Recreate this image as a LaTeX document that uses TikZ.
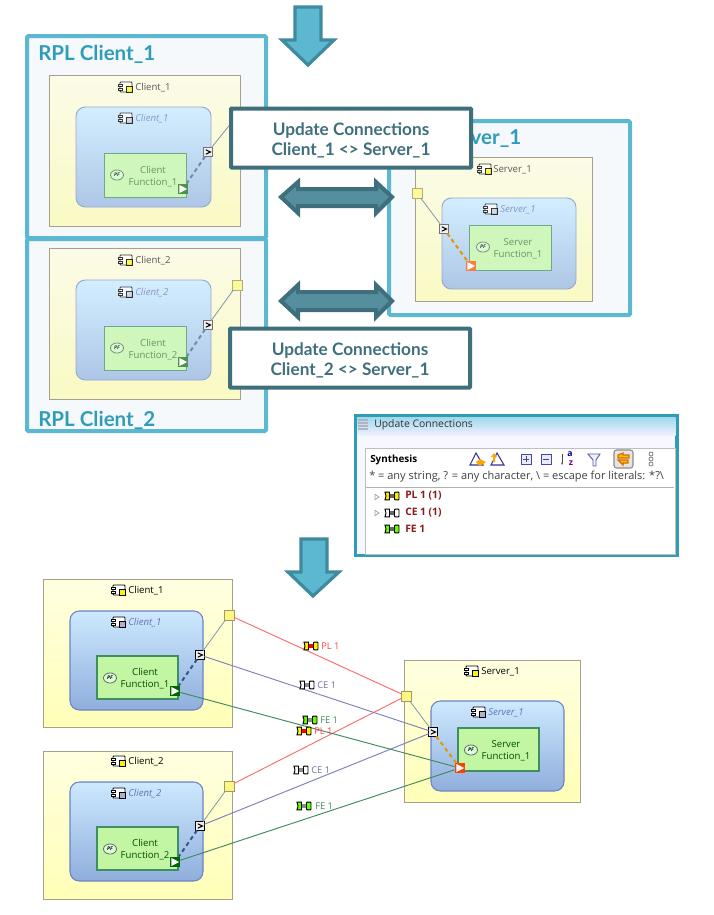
\documentclass[tikz,border=0pt]{standalone}
\usepackage{fontspec}
\setmainfont{Open Sans}
\newfontfamily\headfont{Lato}
\usetikzlibrary{shadows,shapes.geometric,arrows.meta}
\definecolor{panelline}{HTML}{5BB8D0}
\definecolor{panelfill}{HTML}{F6F9FB}
\definecolor{headblue}{HTML}{2F9DB8}
\definecolor{callline}{HTML}{3F6F7D}
\definecolor{dblfill}{HTML}{558E9C}
\definecolor{downfill}{HTML}{5BB8D0}
\definecolor{downline}{HTML}{3F8A9C}
\definecolor{winline}{HTML}{2F9DB5}
\definecolor{redline}{HTML}{FF6A6A}
\definecolor{cepurple}{HTML}{7D7FBE}
\definecolor{fegreen}{HTML}{3E8A5C}
\definecolor{darkred}{HTML}{8B1A1A}
\definecolor{bluUtop}{HTML}{D3EEFF}
\definecolor{bluUbot}{HTML}{AEC6E6}
\definecolor{bluLtop}{HTML}{CDE9FF}
\definecolor{bluLbot}{HTML}{8FAEDC}
\definecolor{bluUedge}{HTML}{98A8D4}
\definecolor{bluLedge}{HTML}{6F83C4}
\definecolor{grnUfill}{HTML}{CFF7BC}
\definecolor{grnLfill}{HTML}{C3F6A2}
\definecolor{grnUedge}{HTML}{6FA88A}
\definecolor{grnLedge}{HTML}{3F8F62}
\definecolor{dashUcol}{HTML}{6F8CA8}
\definecolor{dashLcol}{HTML}{33558A}
\definecolor{linkcol}{HTML}{7D98A8}
\definecolor{innerU}{HTML}{8C96CC}
\definecolor{innerL}{HTML}{6670B8}
\definecolor{boxedge}{HTML}{A89F8C}
\tikzset{
  x=0.75pt,y=-0.75pt,
  rb/.style={inner sep=0pt,outer sep=0pt,rectangle},
  panel/.style={rb,draw=panelline,line width=3pt,fill=panelfill,rounded corners=1pt},
  callout/.style={rb,draw=callline,line width=3pt,fill=white,rounded corners=0.5pt,align=center,text=callline,
     font=\headfont\bfseries\fontsize{12.9}{15}\selectfont},
  yelU/.style={rb,draw=boxedge,line width=.6pt,top color=yellow!8!white!97!gray,bottom color=yellow!22!white!96!gray},
  bluU/.style={rb,draw=bluUedge,line width=.7pt,rounded corners=7pt,top color=bluUtop,bottom color=bluUbot},
  grnU/.style={rb,draw=grnUedge,line width=.7pt,fill=grnUfill},
  yelL/.style={rb,draw=boxedge,line width=.7pt,top color=yellow!12!white,bottom color=yellow!28!white,drop shadow={shadow xshift=1pt,shadow yshift=-1pt,opacity=.2}},
  bluL/.style={rb,draw=bluLedge,line width=.8pt,rounded corners=7pt,top color=bluLtop,bottom color=bluLbot},
  grnL/.style={rb,draw=grnLedge,line width=.8pt,fill=grnLfill},
  ypU/.style={rb,draw=gray!70!yellow,line width=.6pt,fill=yellow!40!white,minimum size=7.5pt},
  ypL/.style={rb,draw=gray!60!yellow!80!black,line width=.7pt,fill=yellow!50!white,minimum size=7.5pt},
  gtU/.style={rb,draw=black!55,line width=.6pt,fill=black!6,minimum size=6.5pt},
  gtL/.style={rb,draw=black,line width=.7pt,fill=black!6,minimum size=6.5pt},
  triGU/.style={rb,fill=green!40!black!70!white,minimum size=8pt},
  triGL/.style={rb,fill=green!40!black,minimum size=8pt},
  triRU/.style={rb,fill=orange!60!red!75!white,minimum size=8pt},
  triRL/.style={rb,fill=orange!50!red,minimum size=8pt},
  txtTitle/.style={inner sep=0pt,yshift=-.6pt,font=\fontsize{7.2}{8}\selectfont},
  txtInner/.style={inner sep=0pt,yshift=-.6pt,font=\itshape\fontsize{7.2}{8}\selectfont},
  txtFun/.style={inner sep=0pt,yshift=-.6pt,align=center,font=\fontsize{7.2}{9}\selectfont},
  heading/.style={inner sep=0pt,anchor=west,text=headblue,font=\headfont\bfseries\fontsize{15.4}{18}\selectfont},
  pflab/.style={ellipse,draw=black!60,line width=.6pt,inner sep=0pt,minimum width=9.8pt,minimum height=7.6pt,fill=white!85!green,font=\itshape\bfseries\fontsize{3.8}{4}\selectfont},
  solidlink/.style={line width=.6pt,draw=linkcol},
  dashU/.style={line width=1.5pt,dash pattern=on 3pt off 2.5pt,draw=dashUcol},
  dashL/.style={line width=1.5pt,dash pattern=on 3pt off 2.5pt,draw=dashLcol},
  dashO/.style={line width=1.5pt,dash pattern=on 3pt off 2.5pt,draw=orange!70!yellow!90!black},
  pllink/.style={line width=.7pt,draw=redline},
  celink/.style={line width=.7pt,draw=cepurple},
  felink/.style={line width=.7pt,draw=fegreen},
  conlab/.style={inner sep=0pt,anchor=west,yshift=-.4pt,font=\fontsize{7}{8}\selectfont},
  wintxt/.style={inner sep=0pt,anchor=west,font=\fontsize{7.8}{9}\selectfont},
  rowtxt/.style={inner sep=0pt,anchor=west,text=darkred,font=\bfseries\fontsize{7.7}{9}\selectfont},
}
% box by its corners
\newcommand{\rbox}[6]{\node[#1,minimum width={(#5-#3)*0.75pt},minimum height={(#6-#4)*0.75pt}] (#2) at ({(#3+#5)/2},{(#4+#6)/2}) {};}
% component icon: x y fill opacity
\newcommand{\compicon}[4]{\begin{scope}[shift={(#1,#2)},opacity=#4]
  \draw[line width=.6pt,fill=white,rounded corners=.6pt] (-5,-5) rectangle (7,5);
  \draw[line width=.6pt,fill=white] (-7,-3) rectangle (-3,-1);
  \draw[line width=.6pt,fill=white] (-7,1) rectangle (-3,3);
  \draw[line width=.5pt,fill=#3] (1,-.5) rectangle (7,5);
\end{scope}}
% connection icon: x y end fill bar fill
\newcommand{\conicon}[4]{\begin{scope}[shift={(#1,#2)}]
  \fill[#4] (-3,-1.8) rectangle (3,1.8);
  \draw[line width=.7pt,fill=#3] (-7,-3.8) -- (-2.5,-3.8) -- (-2.5,3.8) -- (-7,3.8) -- (-6,0) -- cycle;
  \draw[line width=.7pt,fill=#3,rounded corners=.5pt] (2.5,-3.8) rectangle (7,3.8);
\end{scope}}
\newcommand{\gtmark}[1]{\draw[line width=.8pt,line join=miter] ([shift={(-2.2,-2.2)}]#1.center) -- ([shift={(2.4,0)}]#1.center) -- ([shift={(-2.2,2.2)}]#1.center);}
\newcommand{\trimark}[1]{\fill[white] ([shift={(-3.6,-4)}]#1.center) -- ([shift={(4.2,0)}]#1.center) -- ([shift={(-3.6,4)}]#1.center) -- cycle;}
\newcommand{\triang}[2]{\fill[gray!80] (#1-2.5,#2-3.5) -- (#1+2.5,#2) -- (#1-2.5,#2+3.5) -- cycle; \fill[white] (#1-1.6,#2-2) -- (#1+1,#2) -- (#1-1.6,#2+2) -- cycle;}
\begin{document}
\begin{tikzpicture}
\useasboundingbox (0,0) rectangle (714,915);
\fill[white] (0,0) rectangle (714,915);

% ---- upper arrows
\path[draw=downline,fill=downfill,line width=2.4pt,line join=miter]
  (295,7) -- (321,7) -- (321,40) -- (334,40) -- (308,65) -- (282,40) -- (295,40) -- cycle;

% ---- panels
\rbox{panel}{pc1}{27}{36}{266}{238}
\rbox{panel}{pc2}{27}{239}{266}{431}
\rbox{panel}{ps1}{389}{121}{630}{315}
\node[heading] (hc1) at (38,54) {RPL Client\_1};
\node[heading] (hc2) at (38,420.5) {RPL Client\_2};
\node[heading] (hs1) at (399,138) {RPL Server\_1};

% ---- upper Client_1
\rbox{yelU}{ua1y}{49}{75}{240}{226}
\rbox{bluU}{ua1b}{76}{107}{211}{207}
\rbox{grnU}{ua1g}{104}{153}{186}{197}
\compicon{125}{87}{yellow!85!white}{.8}
\node[txtTitle,text=black!65,anchor=west] (ua1t) at (135,87) {Client\_1};
\compicon{125}{118}{blue!15!gray!35}{.75}
\node[txtInner,text=innerU,anchor=west] (ua1i) at (135,118) {Client\_1};
\node[pflab,opacity=.75] (ua1p) at (117,175) {PF};
\node[txtFun,text=green!30!black!60] (ua1f) at (153,176) {Client\\Function\_1};
\coordinate (ua1hid) at (240,112);
\node[gtU] (ua1c) at (208,152) {};
\node[triGU] (ua1e) at (183,189) {};
\draw[solidlink] (ua1c) -- (ua1hid);
\draw[dashU] (ua1c) -- (ua1e);
\gtmark{ua1c}\trimark{ua1e}

% ---- upper Client_2
\rbox{yelU}{ua2y}{49}{248}{240}{399}
\rbox{bluU}{ua2b}{76}{280}{211}{380}
\rbox{grnU}{ua2g}{104}{326}{186}{370}
\compicon{125}{260}{yellow!85!white}{.8}
\node[txtTitle,text=black!65,anchor=west] (ua2t) at (135,260) {Client\_2};
\compicon{125}{292}{blue!15!gray!35}{.75}
\node[txtInner,text=innerU,anchor=west] (ua2i) at (135,292) {Client\_2};
\node[pflab,opacity=.75] (ua2p) at (117,348) {PF};
\node[txtFun,text=green!30!black!60] (ua2f) at (153,349) {Client\\Function\_2};
\node[ypU] (ua2a) at (237,285) {};
\node[gtU] (ua2c) at (208,325) {};
\node[triGU] (ua2e) at (183,362) {};
\draw[solidlink] (ua2c) -- (ua2a);
\draw[dashU] (ua2c) -- (ua2e);
\gtmark{ua2c}\trimark{ua2e}

% ---- upper Server_1
\rbox{yelU}{us1y}{415}{157}{592}{301}
\rbox{bluU}{us1b}{442}{198}{576}{289}
\rbox{grnU}{us1g}{469}{225}{551}{270}
\compicon{484}{169}{yellow!85!white}{.8}
\node[txtTitle,text=black!65,anchor=west] (us1t) at (493,169) {Server\_1};
\compicon{490}{209}{blue!15!gray!35}{.75}
\node[txtInner,text=innerU,anchor=west] (us1i) at (500,209) {Server\_1};
\node[pflab,opacity=.75] (us1p) at (483,247) {PF};
\node[txtFun,text=green!30!black!60] (us1f) at (518,248) {Server\\Function\_1};
\node[ypU] (us1a) at (417,193) {};
\node[gtU] (us1c) at (444,229) {};
\node[triRU] (us1e) at (471,266) {};
\draw[solidlink] (us1c) -- (us1a);
\draw[dashO] (us1c) -- (us1e);
\gtmark{us1c}\trimark{us1e}

% ---- callouts
\node[callout,minimum width={240*0.75pt},minimum height={59*0.75pt}] (call1) at (351,138) {\rule{0pt}{12.5pt}Update Connections\\Client\_1 <> Server\_1};
\node[callout,minimum width={240*0.75pt},minimum height={59*0.75pt}] (call2) at (350,358) {\rule{0pt}{12.5pt}Update Connections\\Client\_2 <> Server\_1};

% ---- double arrows
\path[draw=callline,fill=dblfill,line width=3pt,line join=miter]
  (281,197) -- (298,182) -- (298,189) -- (376,189) -- (376,182) -- (392,197) -- (376,213) -- (376,206) -- (298,206) -- (298,213) -- cycle;
\path[draw=callline,fill=dblfill,line width=3pt,line join=miter]
  (281,301) -- (298,285) -- (298,292) -- (376,292) -- (376,285) -- (392,301) -- (376,317) -- (376,310) -- (298,310) -- (298,317) -- cycle;

% ---- window
\rbox{rb,fill=white!97!blue,draw=winline,line width=2.4pt}{win}{355.5}{416}{677}{555.5}
\shade[top color=blue!25!cyan!35!white!85!gray,bottom color=blue!6!white] (357,417.5) rectangle (675.5,435);
\foreach \yy in {420,423,426,429}{\draw[blue!10!gray!55,line width=1.2pt] (358,\yy) -- (368,\yy);}
\node[wintxt,text=black!80] (wtitle) at (374,425) {Update Connections};
\rbox{rb,fill=white,draw=black!25,line width=.5pt}{wpanel}{365}{448}{675.5}{554}
\coordinate (wfl) at (366,487);
\coordinate (wfr) at (674,487);
\draw[black!30,line width=.6pt] (wfl) -- (wfr);
\node[wintxt,text=black,font=\bfseries\fontsize{7.4}{9}\selectfont] (wsyn) at (370,460) {Synthesis};
\node[wintxt,text=black!75,font=\fontsize{8.25}{9}\selectfont] (wfilter) at (369,477) {* = any string, ? = any character, \textbackslash\ = escape for literals: *?\textbackslash};
% toolbar icons
\draw[blue!50!black!80,line width=.8pt,fill=white] (476,453) -- (483,465) -- (470,465) -- cycle;
\fill[orange!70!yellow] (480,459) -- (486,462) -- (480,466) -- (476,462) -- cycle;
\draw[blue!50!black!80,line width=.8pt,fill=white] (497,453) -- (504,465) -- (491,465) -- cycle;
\fill[orange!70!yellow] (491,457) -- (494,453) -- (497,457) -- (495,457) -- (495,462) -- (493,462) -- (493,457) -- cycle;
\draw[blue!45!gray,line width=.7pt,fill=blue!8!white] (521,454) rectangle (531,464);
\draw[black!70,line width=.7pt] (523,459) -- (529,459) (526,456) -- (526,462);
\draw[blue!45!gray,line width=.7pt,fill=blue!8!white] (541,454) rectangle (551,464);
\draw[black!70,line width=.7pt] (543,459) -- (549,459);
\draw[black!70,line width=.7pt,-{Stealth[length=2pt]}] (562,454) -- (562,465);
\node[inner sep=0pt,text=blue!60!black,font=\bfseries\fontsize{6.5}{6}\selectfont] (wsa) at (570,454) {a};
\node[inner sep=0pt,text=violet,font=\bfseries\fontsize{6.5}{6}\selectfont] (wsz) at (571,463) {z};
\draw[gray!70!blue,line width=.7pt,fill=blue!6!white] (588,454) -- (600,454) -- (596,460) -- (596,466) -- (593,466) -- (593,460) -- cycle;
\rbox{rb,draw=black!45,line width=.8pt,fill=black!10,rounded corners=2pt}{wsel}{614}{450}{633}{468}
\draw[orange!85!black,line width=.9pt,fill=yellow!50!orange] (618,455) -- (623,453) -- (623,455) -- (629,455) -- (629,458) -- (618,458) -- cycle (618,460) -- (628,460) -- (628,463) -- (623,463) -- (623,465) -- cycle;
\foreach \yy in {454,459,464}{\draw[black!50,line width=.6pt,fill=white] (651,\yy) circle (2);}
% tree rows
\triang{377}{497}\triang{377}{513}
\conicon{392}{496}{yellow!90!orange}{black!60}
\conicon{392}{513}{white}{black!60}
\conicon{392}{529}{green!60!yellow}{black!60}
\node[rowtxt] (wr1) at (405,496) {PL 1 (1)};
\node[rowtxt] (wr2) at (405,513) {CE 1 (1)};
\node[rowtxt] (wr3) at (405,529) {FE 1};

% ---- lower arrow
\path[draw=downline,fill=downfill,line width=2.4pt,line join=miter]
  (301,539) -- (327,539) -- (327,572) -- (339,572) -- (313,596) -- (288,572) -- (301,572) -- cycle;

% ---- lower Client_1
\rbox{yelL}{la1y}{43}{579}{232}{727}
\rbox{bluL}{la1b}{70}{611}{203}{710}
\rbox{grnL}{la1g}{97}{656}{178}{699}
\compicon{118}{590}{yellow}{1}
\node[txtTitle,anchor=west] (la1t) at (128,590) {Client\_1};
\compicon{118}{622}{blue!25!gray!50}{1}
\node[txtInner,text=innerL,anchor=west] (la1i) at (128,622) {Client\_1};
\node[pflab] (la1p) at (110,678) {PF};
\node[txtFun,text=green!30!black] (la1f) at (145,678) {Client\\Function\_1};

% ---- lower Client_2
\rbox{yelL}{la2y}{43}{751}{232}{899}
\rbox{bluL}{la2b}{70}{782}{203}{881}
\rbox{grnL}{la2g}{97}{827}{178}{870}
\compicon{118}{761}{yellow}{1}
\node[txtTitle,anchor=west] (la2t) at (128,761) {Client\_2};
\compicon{118}{793}{blue!25!gray!50}{1}
\node[txtInner,text=innerL,anchor=west] (la2i) at (128,793) {Client\_2};
\node[pflab] (la2p) at (110,849) {PF};
\node[txtFun,text=green!30!black] (la2f) at (145,849) {Client\\Function\_2};

% ---- lower Server_1
\rbox{yelL}{ls1y}{404}{660}{580}{802}
\rbox{bluL}{ls1b}{431}{701}{564}{791}
\rbox{grnL}{ls1g}{458}{728}{539}{771}
\compicon{471}{671}{yellow}{1}
\node[txtTitle,anchor=west] (ls1t) at (481,671) {Server\_1};
\compicon{478}{712}{blue!25!gray!50}{1}
\node[txtInner,text=innerL,anchor=west] (ls1i) at (488,712) {Server\_1};
\node[pflab] (ls1p) at (471,750) {PF};
\node[txtFun,text=green!30!black] (ls1f) at (506,750) {Server\\Function\_1};

% ---- lower ports
\node[ypL] (la1a) at (229,615) {};
\node[gtL] (la1c) at (200,655) {};
\node[triGL] (la1e) at (175,691) {};
\node[ypL] (la2a) at (229,786) {};
\node[gtL] (la2c) at (200,826) {};
\node[triGL] (la2e) at (175,862) {};
\node[ypL] (ls1a) at (406,696) {};
\node[gtL] (ls1c) at (433,732) {};
\node[triRL] (ls1e) at (460,768) {};

% ---- lower connections
\draw[pllink] (la1a) -- (ls1a);
\draw[pllink] (la2a) -- (ls1a);
\draw[celink] (la1c) -- (ls1c);
\draw[celink] (la2c) -- (ls1c);
\draw[felink] (la1e) -- (ls1e);
\draw[felink] (la2e) -- (ls1e);
\draw[solidlink] (la1c) -- (la1a);
\draw[solidlink] (la2c) -- (la2a);
\draw[solidlink] (ls1c) -- (ls1a);
\draw[dashL] (la1c) -- (la1e);
\draw[dashL] (la2c) -- (la2e);
\draw[dashO] (ls1c) -- (ls1e);
\gtmark{la1c}\gtmark{la2c}\gtmark{ls1c}
\trimark{la1e}\trimark{la2e}\trimark{ls1e}

% ---- connection labels
\conicon{311}{646}{yellow}{red}
\node[conlab,text=red!75!white] (lp1) at (321,646) {PL 1};
\conicon{307}{685}{white}{black!45}
\node[conlab,text=cepurple!90!black] (lc1) at (317,685) {CE 1};
\conicon{310}{720}{green!60!yellow}{black!45}
\node[conlab,text=fegreen] (lf1) at (320,720) {FE 1};
\conicon{304}{731}{yellow}{red}
\node[conlab,text=red!75!white] (lp2) at (314,731) {PL 1};
\conicon{301}{770}{white}{black!45}
\node[conlab,text=cepurple!90!black] (lc2) at (311,770) {CE 1};
\conicon{304}{806}{green!60!yellow}{black!45}
\node[conlab,text=fegreen] (lf2) at (315,806) {FE 1};
\end{tikzpicture}
\end{document}
